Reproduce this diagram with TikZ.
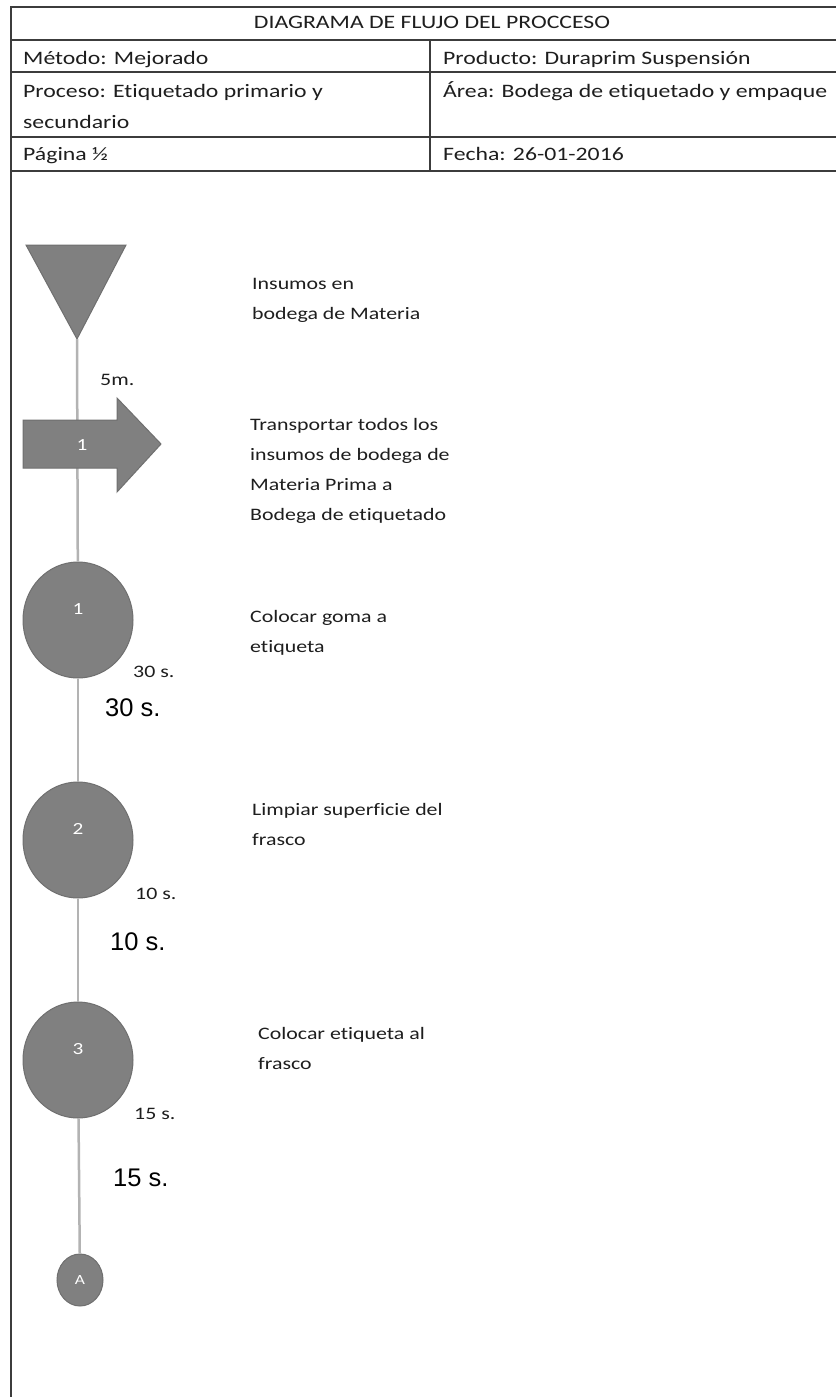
\documentclass[tikz,border=0pt]{standalone}
\usepackage{fontspec}
\setmainfont{Carlito}[FakeStretch=1.25, Ligatures=NoCommon]
\newfontfamily\arialfont{Liberation Sans}
\usetikzlibrary{shapes.geometric}
\definecolor{rulegray}{HTML}{3C3C3C}
\definecolor{shapegray}{HTML}{808080}
\definecolor{shapeedge}{HTML}{6F6F6F}
\definecolor{linkgray}{HTML}{B3B3B3}
\definecolor{textgray}{HTML}{1E1E1E}
\begin{document}
\begin{tikzpicture}[x=1pt,y=-1pt,
  rule/.style={draw=rulegray, line width=2.8pt},
  hdr/.style={inner sep=0pt, text=textgray, font=\fontsize{19}{31}\selectfont, anchor=base west, align=left},
  desc/.style={inner sep=0pt, text=textgray, font=\fontsize{17.5}{30}\selectfont, anchor=base west, align=left},
  tlabel/.style={inner sep=0pt, text=textgray, font=\fontsize{17.5}{21}\selectfont, anchor=base west},
  tarial/.style={inner sep=0pt, text=black, font=\arialfont\fontsize{25.5}{30}\selectfont, anchor=base west},
  symb/.style={fill=shapegray, draw=shapeedge, line width=1pt},
  opcirc/.style={symb, ellipse, minimum width=110pt, minimum height=116pt, inner sep=0pt,
    text=white, font=\fontsize{17}{20}\selectfont, text height=12pt, text depth=24pt},
  offpage/.style={symb, ellipse, minimum width=46pt, minimum height=52pt, inner sep=0pt,
    text=white, font=\fontsize{14}{16}\selectfont},
  link/.style={draw=linkgray, line width=2.5pt},
]
\useasboundingbox (0,0) rectangle (836,1397);
\fill[white] (0,0) rectangle (836,1397);

% ---- header table ----
\draw[rule] (11,1397) -- (11,7) -- (836,7);
\draw[rule] (11,40) -- (836,40);
\draw[rule] (11,72) -- (836,72);
\draw[rule] (11,137) -- (836,137);
\draw[rule] (11,171) -- (836,171);
\draw[rule] (430,40) -- (430,171);

% multi-line nodes are placed by the baseline of their last line
\node[hdr, anchor=base] (title) at (432,29) {DIAGRAMA DE FLUJO DEL PROCCESO};
\node[hdr] (metodo) at (23,64) {Método: Mejorado};
\node[hdr] (producto) at (443,64) {Producto: Duraprim Suspensión};
\node[hdr] (proceso) at (23,128) {Proceso: Etiquetado primario y\\secundario};
\node[hdr] (area) at (443,97) {Área: Bodega de etiquetado y empaque};
\node[hdr] (pagina) at (23,160) {Página ½};
\node[hdr] (fecha) at (443,160) {Fecha: 26-01-2016};

% ---- storage symbol ----
\path[symb] (26,245) -- (126,245) -- (77,339) -- cycle;
\coordinate (apex) at (77,339);

% ---- operations and off-page connector ----
\node[opcirc] (op1) at (78,620) {1};
\node[opcirc] (op2) at (78,840) {2};
\node[opcirc] (op3) at (78,1060) {3};
\node[offpage] (conA) at (80,1280) {A};

% ---- flow line ----
\draw[link] (apex) -- (op1);
\draw[link] (op1) -- (op2);
\draw[link] (op2) -- (op3);
\draw[link] (op3) -- (conA);

% ---- transport arrow ----
\path[symb] (23,420) -- (117,420) -- (117,398) -- (161,444) -- (117,492) -- (117,468) -- (23,468) -- cycle;
\node[text=white, inner sep=0pt, font=\fontsize{17}{20}\selectfont] (transp) at (82,445) {1};

% ---- descriptions ----
\node[desc] (d0) at (252,319) {Insumos en\\bodega de Materia};
\node[desc] (d1) at (250,520) {Transportar todos los\\insumos de bodega de\\Materia Prima a\\Bodega de etiquetado};
\node[desc] (d2) at (250,652) {Colocar goma a\\etiqueta};
\node[desc] (d3) at (252,845) {Limpiar superficie del\\frasco};
\node[desc] (d4) at (258,1069) {Colocar etiqueta al\\frasco};

% ---- distances and times ----
\node[tlabel] (dist) at (100,385) {5m.};
\node[tlabel] (t1) at (133,677) {30 s.};
\node[tlabel] (t2) at (135,899) {10 s.};
\node[tlabel] (t3) at (134,1119) {15 s.};
\node[tarial] (a1) at (105,716) {30 s.};
\node[tarial] (a2) at (110,950) {10 s.};
\node[tarial] (a3) at (113,1186) {15 s.};
\end{tikzpicture}
\end{document}
